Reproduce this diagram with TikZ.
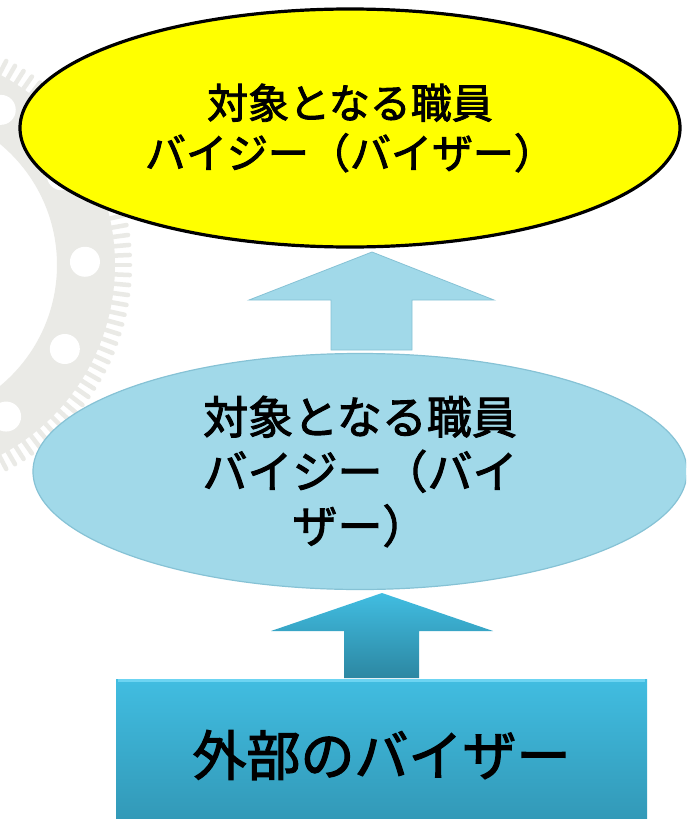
\documentclass[tikz,border=0pt]{standalone}
\usepackage{fontspec}
\newfontfamily\jp{Noto Sans CJK JP}[FakeBold=2.2]
\usetikzlibrary{shapes.geometric,calc}
\definecolor{gearcol}{HTML}{EAEAE6}
\definecolor{yell}{HTML}{FFFF00}
\definecolor{lblue}{HTML}{A1D9E9}
\definecolor{lblueedge}{HTML}{86C2D5}
\definecolor{btop}{HTML}{41BDE1}
\definecolor{bbot}{HTML}{3196B4}
\definecolor{bedge}{HTML}{6CD4F2}
\tikzset{
  goal/.style={ellipse, fill=yell, draw=black, line width=3.2pt, inner sep=0pt,
    minimum width=660pt, minimum height=238pt, align=center,
    font=\jp\fontsize{41}{50}\selectfont},
  mid/.style={ellipse, fill=lblue, draw=lblueedge, line width=1.2pt, inner sep=0pt,
    minimum width=654pt, minimum height=236pt, align=center,
    font=\jp\fontsize{45}{54.5}\selectfont},
  src/.style={rectangle, top color=btop, bottom color=bbot, draw=none, inner sep=0pt,
    minimum width=531pt, minimum height=152pt, align=center,
    font=\jp\fontsize{54}{60}\selectfont},
  lightarrow/.style={fill=lblue, draw=lblueedge, line width=0.8pt},
  darkarrow/.style={top color=btop, bottom color=bbot!90!black, draw=none},
}
\begin{document}
\begin{tikzpicture}[x=1pt,y=-1pt]
\useasboundingbox (0,0) rectangle (686,819);
\clip (0,0) rectangle (686,819);
\fill[white] (0,0) rectangle (686,819);
% background gear
\begin{scope}[shift={(-100,265)}]
  \fill[gearcol, even odd rule] (0,0) circle (215pt) (0,0) circle (157pt);
  \foreach \a in {-90,-87.5,...,90} {
    \draw[gearcol, line width=4.5pt, line cap=round] (\a:212) -- (\a:230);
  }
  \foreach \a in {-85,-57,-29,-1,27,55,83} {
    \fill[white] (\a:185) circle (15pt);
  }
\end{scope}
% nodes
\node[goal] (top) at (350,128) {対象となる職員\\バイジー（バイザー）};
\node[mid] (mid) at (360,471.5) {対象となる職員\\バイジー（バイ\\ザー）};
\node[src] (ext) at (381.5,755) {外部のバイザー};
% arrows
\draw[lightarrow] (372,252) -- (494,300) -- (412,300) -- (412,350) -- (331,350) -- (331,300) -- (249,300) -- cycle;
\draw[darkarrow] (382,593) -- (493,631) -- (419,631) -- (419,678) -- (344,678) -- (344,631) -- (271,631) -- cycle;
% bevel of the source box
\draw[bedge, line width=3pt] ($(ext.north west)+(2,1.5)$) -- ($(ext.north east)+(-2,1.5)$);
\end{tikzpicture}
\end{document}
